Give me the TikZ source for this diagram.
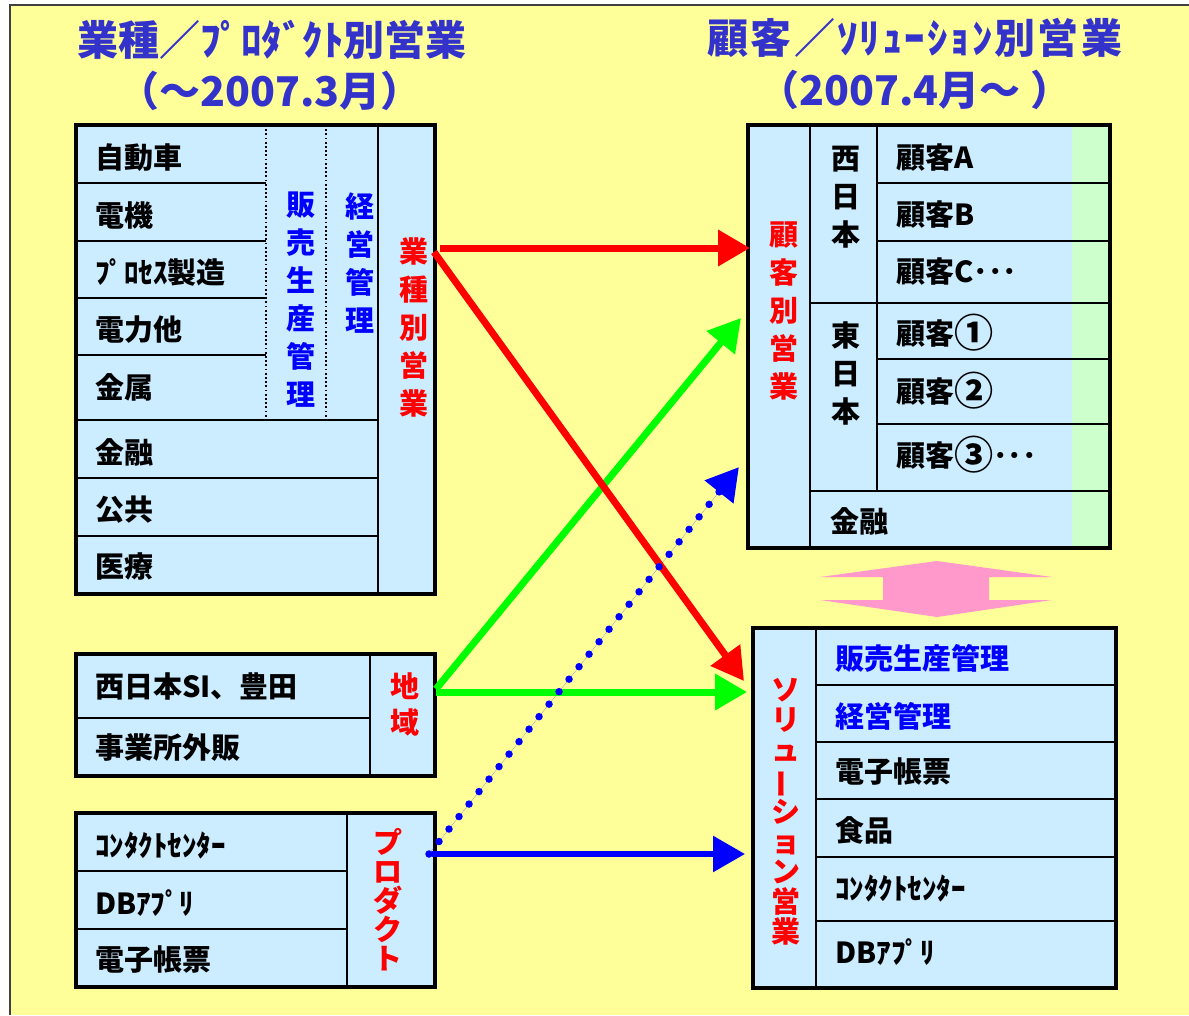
\documentclass[tikz,border=0pt]{standalone}
\usepackage{fontspec}
\setmainfont{Noto Sans CJK JP}
\usetikzlibrary{arrows.meta}
\definecolor{bgc}{HTML}{FFFF99}
\definecolor{cellc}{HTML}{CCECFF}
\definecolor{grnc}{HTML}{CCFFCC}
\definecolor{pinkc}{HTML}{FF99CC}
\definecolor{ttlc}{HTML}{3333CC}
\definecolor{blc}{HTML}{0000FF}
\definecolor{rdc}{HTML}{FF0000}
\definecolor{grc}{HTML}{00FF00}
\newcommand{\bigc}[1]{\raisebox{-0.12em}{\scalebox{1.35}{#1}}}
\tikzset{
  outerbox/.style={draw=black, line width=4.5pt},
  cellfill/.style={fill=cellc},
  sep/.style={draw=black, line width=1.8pt},
  dotsep/.style={draw=black, line width=1.8pt, dash pattern=on 1.8pt off 2.4pt},
  lbl/.style={anchor=west, inner sep=0pt, font=\bfseries\fontsize{29}{34}\selectfont},
  vtext/.style={align=center, inner sep=0pt, font=\bfseries\fontsize{29}{38}\selectfont},
  ttl/.style={inner sep=0pt, text=ttlc, font=\bfseries\fontsize{41}{46}\selectfont},
  arr/.style={line width=7pt, -{Triangle[length=32pt,width=35pt]}},
}
\begin{document}
\begin{tikzpicture}[x=1pt,y=-1pt]
\useasboundingbox (0,0) rectangle (1189,1015);
\fill[white] (0,0) rectangle (1189,1015);
\fill[bgc] (10,5) rectangle (1189,1015);
\draw[line width=1.5pt, black!75] (10,1015) -- (10,5) -- (1189,5);

% titles
\node[ttl] (t1) at (272,40) {業種／ﾌﾟﾛﾀﾞｸﾄ別営業};
\node[ttl] (t1b) at (270,91) {（～2007.3月）};
\node[ttl, font=\bfseries\fontsize{41}{46}\selectfont\addfontfeature{LetterSpace=5}] (t2) at (915,38) {顧客／ｿﾘｭｰｼｮﾝ別営業};
\node[ttl] (t2b) at (915,90) {（2007.4月～ ）};

% ---------- left top box ----------
\fill[cellfill] (76,125) rectangle (435,594);
\foreach \yy in {183,241,298,355} \draw[sep] (76,\yy) -- (266,\yy);
\foreach \yy in {420,478,536} \draw[sep] (76,\yy) -- (378,\yy);
\draw[dotsep] (266,125) -- (266,420);
\draw[dotsep] (326,125) -- (326,420);
\draw[sep] (378,125) -- (378,594);
\draw[outerbox] (76,125) rectangle (435,594);
\node[lbl] (l1) at (95,158) {自動車};
\node[lbl] (l2) at (95,215) {電機};
\node[lbl] (l3) at (95,272) {ﾌﾟﾛｾｽ製造};
\node[lbl] (l4) at (95,330) {電力他};
\node[lbl] (l5) at (95,387) {金属};
\node[lbl] (l6) at (95,452) {金融};
\node[lbl] (l7) at (95,510) {公共};
\node[lbl] (l8) at (95,567) {医療};
\node[vtext, text=blc] (hanbai) at (301,300) {販\\売\\生\\産\\管\\理};
\node[vtext, text=blc] (keiei) at (360,263) {経\\営\\管\\理};
\node[vtext, text=rdc] (gyoshu) at (414,327) {業\\種\\別\\営\\業};

% ---------- left middle box ----------
\fill[cellfill] (76,654) rectangle (435,776);
\draw[sep] (76,718) -- (370,718);
\draw[sep] (370,654) -- (370,776);
\draw[outerbox] (76,654) rectangle (435,776);
\node[lbl] (m1) at (95,686) {西日本SI、豊田};
\node[lbl] (m2) at (95,748) {事業所外販};
\node[vtext, text=rdc, font=\bfseries\fontsize{29}{36}\selectfont] (chiiki) at (405,704) {地\\域};

% ---------- left bottom box ----------
\fill[cellfill] (76,813) rectangle (435,987);
\draw[sep] (76,871) -- (347,871);
\draw[sep] (76,929) -- (347,929);
\draw[sep] (347,813) -- (347,987);
\draw[outerbox] (76,813) rectangle (435,987);
\node[lbl] (b1) at (95,845) {ｺﾝﾀｸﾄｾﾝﾀｰ};
\node[lbl] (b2) at (95,903) {DBｱﾌﾟﾘ};
\node[lbl] (b3) at (95,960) {電子帳票};
\node[vtext, text=rdc, font=\bfseries\fontsize{29}{29}\selectfont] (prod) at (388,900) {プ\\ロ\\ダ\\ク\\ト};

% ---------- right top box ----------
\fill[cellfill] (748,125) rectangle (1110,548);
\fill[grnc] (1072,125) rectangle (1110,548);
\draw[sep] (810,125) -- (810,548);
\draw[sep] (877,125) -- (877,491);
\draw[sep] (810,303) -- (1110,303);
\draw[sep] (810,491) -- (1110,491);
\foreach \yy in {183,241,359,424} \draw[sep] (877,\yy) -- (1110,\yy);
\draw[outerbox] (748,125) rectangle (1110,548);
\node[lbl] (c1) at (896,158) {顧客A};
\node[lbl] (c2) at (896,215) {顧客B};
\node[lbl] (c3) at (896,272) {顧客C･･･};
\node[lbl] (c4) at (896,333) {顧客\bigc{①}};
\node[lbl] (c5) at (896,391) {顧客\bigc{②}};
\node[lbl] (c6) at (896,455) {顧客\bigc{③}･･･};
\node[lbl] (c7) at (830,521) {金融};
\node[vtext] (west) at (846,197) {西\\日\\本};
\node[vtext] (east) at (846,373) {東\\日\\本};
\node[vtext, text=rdc] (kokyaku) at (784,311) {顧\\客\\別\\営\\業};

% ---------- pink double arrow ----------
\fill[pinkc] (937,561) -- (1052,577) -- (989,577) -- (989,600) -- (1052,600) -- (937,617)
  -- (820,600) -- (883,600) -- (883,577) -- (820,577) -- cycle;

% ---------- right bottom box ----------
\fill[cellfill] (753,628) rectangle (1116,988);
\draw[sep] (816,628) -- (816,988);
\foreach \yy in {685,742,799,857,921} \draw[sep] (816,\yy) -- (1116,\yy);
\draw[outerbox] (753,628) rectangle (1116,988);
\node[lbl, text=blc] (s1) at (835,658) {販売生産管理};
\node[lbl, text=blc] (s2) at (835,716) {経営管理};
\node[lbl] (s3) at (835,772) {電子帳票};
\node[lbl] (s4) at (835,830) {食品};
\node[lbl] (s5) at (835,888) {ｺﾝﾀｸﾄｾﾝﾀｰ};
\node[lbl] (s6) at (835,952) {DBｱﾌﾟﾘ};
\node[vtext, text=rdc, font=\bfseries\fontsize{29}{30}\selectfont] (solution) at (786,812)
  {ソ\\リ\\ュ\\\rotatebox[origin=c]{90}{ー}\\シ\\ョ\\ン\\営\\業};

% ---------- arrow end points ----------
\coordinate (rA) at (440,248);
\coordinate (rAe) at (750,248);
\coordinate (rB) at (434,252);
\coordinate (rBe) at (744,681);
\coordinate (gA) at (436,689);
\coordinate (gAe) at (741,318);
\coordinate (gB) at (436,692);
\coordinate (gBe) at (747,692);
\coordinate (bA) at (429,854);
\coordinate (bAe) at (739,467);
\coordinate (bB) at (432,854);
\coordinate (bBe) at (745,854);

% ---------- arrows ----------
\draw[arr, draw=rdc, fill=rdc] (rA) -- (rAe);
\draw[arr, draw=grc, fill=grc] (gA) -- (gAe);
\draw[arr, draw=rdc, fill=rdc] (rB) -- (rBe);
\draw[arr, draw=grc, fill=grc] (gB) -- (gBe);
\draw[draw=blc, line width=7.5pt, line cap=round, dash pattern=on 0pt off 16pt,
  -{Triangle[length=32pt,width=35pt]}, fill=blc] (bA) -- (bAe);
\draw[draw=blc, line width=6pt, -{Triangle[length=32pt,width=35pt]}, fill=blc] (bB) -- (bBe);
\end{tikzpicture}
\end{document}
